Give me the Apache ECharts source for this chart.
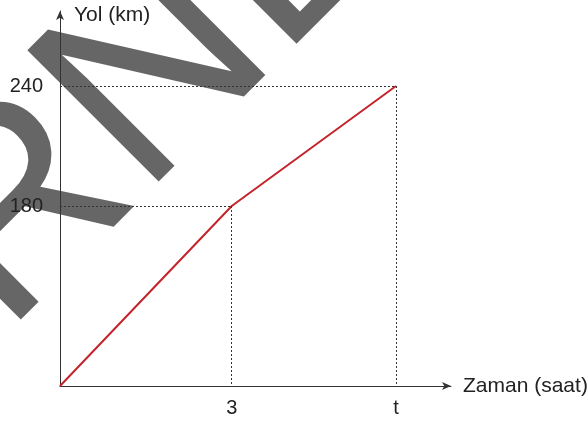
<!DOCTYPE html>
<html>
<head>
<meta charset="utf-8">
<script src="https://cdn.jsdelivr.net/npm/echarts@6/dist/echarts.min.js"></script>
<style>
  html, body { margin: 0; padding: 0; background: #fff; }
  #chart { width: 588px; height: 421px; }
</style>
</head>
<body>
<div id="chart"></div>
<script>
// y ekseni: şema ölçekli değil, 180 seviyesi 240'ın 3/5'inde çizilmiş
// (eşit aralıklı boş kategoriler, ok ucuna kadar)
const yCategories = [
  '0', '', '', '', '', '', '', '', '', '', '', '',
  '180', '', '', '', '', '', '', '',
  '240', '', '', '', '', ''
];
// x ekseni değerleri (saat); t resimden okunan yaklaşık konum
const tHours = 5.87;
const xLabels = { 3: '3', [tHours]: 't' };
// çizgi noktaları: [saat, yol]
const pathPoints = [[0, '0'], [3, '180'], [tHours, '240']];
const guideLevels = [[3, '180'], [tHours, '240']];

const font = '"Liberation Sans", Arial, sans-serif';
const textColor = '#222';
const axisColor = '#333';

const chart = echarts.init(document.getElementById('chart'));

// kesikli yardımcı çizgiler
const guideLines = [];
guideLevels.forEach(p => {
  guideLines.push([{ coord: [0, p[1]] }, { coord: p }]);
  guideLines.push([{ coord: p }, { coord: [p[0], '0'] }]);
});

chart.setOption({
  animation: false,
  graphic: [
    {
      type: 'text',
      z: -10,
      x: -196,
      y: 431,
      rotation: Math.PI / 4,
      silent: true,
      style: {
        text: 'ÖRNEK',
        font: '270px "Liberation Sans", Arial, sans-serif',
        fill: '#666',
        align: 'left',
        verticalAlign: 'middle'
      }
    }
  ],
  grid: {
    left: 60,
    right: 137,
    top: 11,
    bottom: 35,
    containLabel: false,
    outerBoundsMode: 'none'
  },
  xAxis: {
    type: 'value',
    min: 0,
    max: 6.83,
    name: 'Zaman (saat)',
    nameLocation: 'end',
    nameGap: 12,
    nameTextStyle: {
      color: textColor,
      fontSize: 21,
      fontFamily: font,
      align: 'left',
      verticalAlign: 'middle'
    },
    axisLine: {
      show: true,
      symbol: ['none', 'arrow'],
      symbolSize: [6, 9],
      lineStyle: { color: axisColor, width: 1 }
    },
    axisTick: { show: false },
    splitLine: { show: false },
    axisLabel: {
      customValues: [3, tHours],
      formatter: v => xLabels[v] || '',
      color: textColor,
      fontSize: 20,
      fontFamily: font,
      margin: 12
    }
  },
  yAxis: {
    type: 'category',
    data: yCategories,
    boundaryGap: false,
    name: 'Yol (km)',
    nameLocation: 'end',
    nameGap: -4,
    nameTextStyle: {
      color: textColor,
      fontSize: 21,
      fontFamily: font,
      align: 'left',
      verticalAlign: 'middle',
      padding: [0, 0, 0, 14]
    },
    axisLine: {
      show: true,
      symbol: ['none', 'arrow'],
      symbolSize: [6, 9],
      lineStyle: { color: axisColor, width: 1 }
    },
    axisTick: { show: false },
    splitLine: { show: false },
    axisLabel: {
      interval: 0,
      formatter: v => (v && v !== '0' ? v : ''),
      color: textColor,
      fontSize: 20,
      fontFamily: font,
      margin: 17
    }
  },
  series: [
    {
      type: 'line',
      data: pathPoints,
      showSymbol: false,
      lineStyle: { color: '#c4232b', width: 2 },
      z: 3,
      markLine: {
        silent: true,
        symbol: 'none',
        label: { show: false },
        lineStyle: { color: '#333', width: 1, type: [2, 2] },
        data: guideLines
      }
    }
  ]
});
</script>
</body>
</html>
